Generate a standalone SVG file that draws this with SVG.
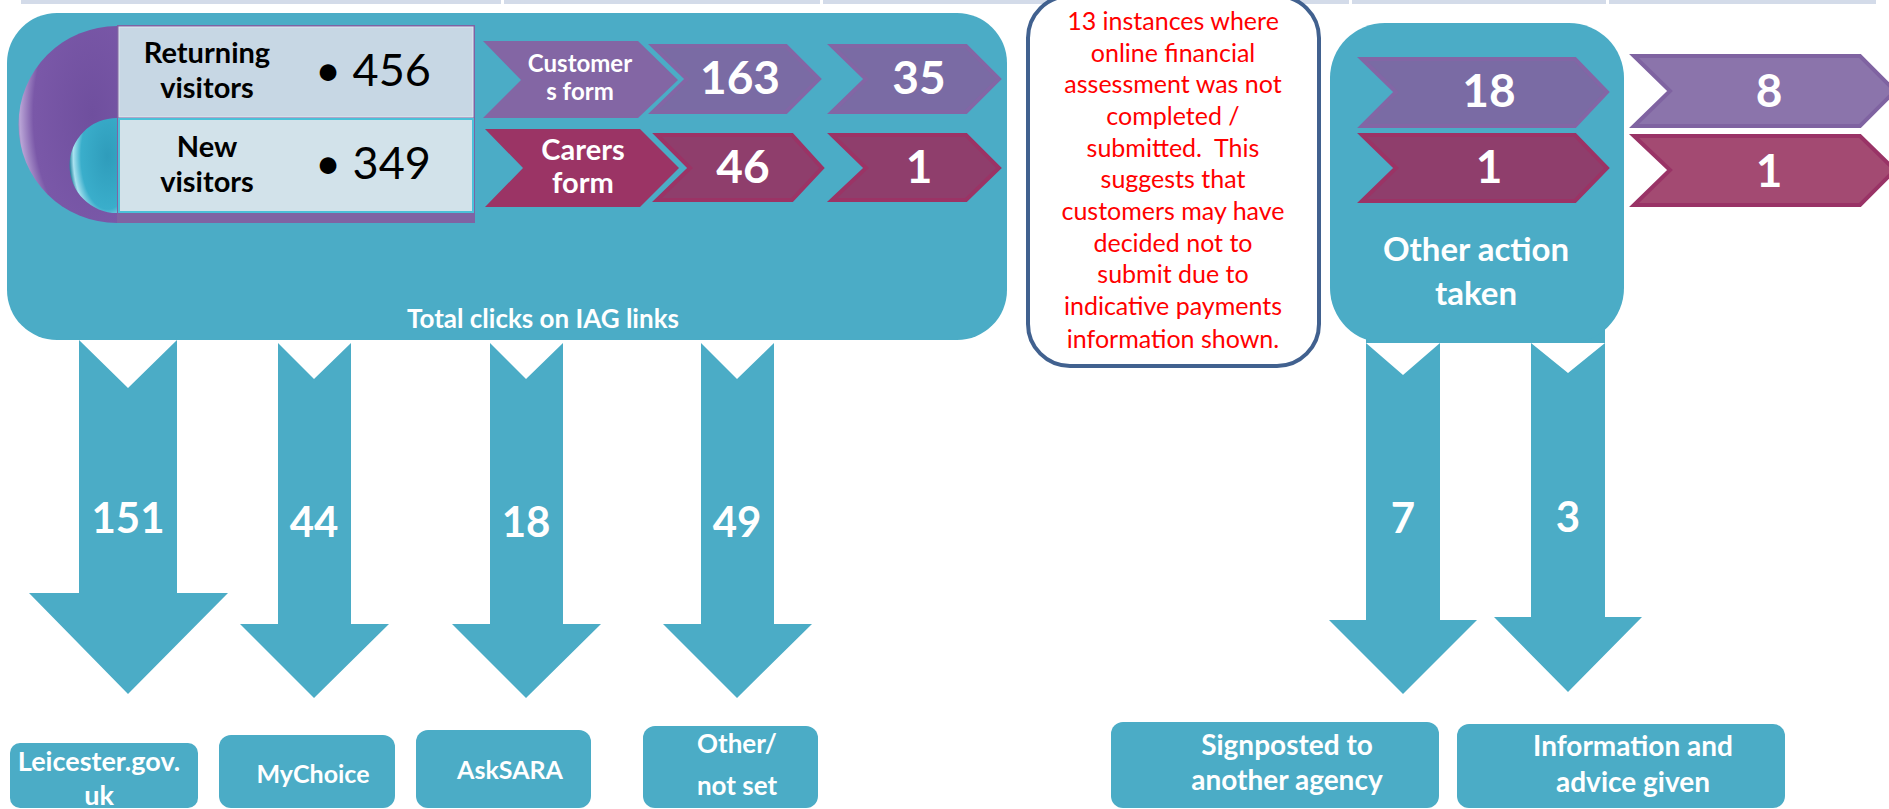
<svg xmlns="http://www.w3.org/2000/svg" width="1889" height="809" viewBox="0 0 1889 809">
<style>
text{font-family:Lato,"Open Sans","Liberation Sans",sans-serif}
.t{fill:#4bacc6}
.w{fill:#ffffff;font-weight:bold;text-anchor:middle}
.b{fill:#000000;font-weight:bold;text-anchor:middle;font-size:29px}
.num{font-size:46px}
.an{font-size:42px}
.cp{fill:#7a6ba4;stroke:#8366a5;stroke-width:4;stroke-linejoin:miter}
.cm{fill:#8f3e6c;stroke:#9b3365;stroke-width:4;stroke-linejoin:miter}
.red{fill:#ff0000;font-size:25px;text-anchor:middle}
.arrow{fill:#4bacc6}
.lab{font-size:28px}
</style>
<defs>
<radialGradient id="gp" cx="0.75" cy="0.45" r="0.8">
<stop offset="0" stop-color="#6f4f9e"/>
<stop offset="0.75" stop-color="#7a58a8"/>
<stop offset="0.92" stop-color="#b9a4d6"/>
<stop offset="1" stop-color="#5d3f88"/>
</radialGradient>
<radialGradient id="gt" cx="0.8" cy="0.4" r="0.8">
<stop offset="0" stop-color="#2f9cbb"/>
<stop offset="0.7" stop-color="#3aaecb"/>
<stop offset="0.9" stop-color="#a9e2f0"/>
<stop offset="1" stop-color="#2a87a2"/>
</radialGradient>
</defs>

<g id="topband">
<rect x="21" y="0" width="1855" height="4" fill="#d3dbe9"/>
<rect x="501" y="0" width="3" height="5" fill="#ffffff"/>
<rect x="820" y="0" width="3" height="5" fill="#ffffff"/>
<rect x="1076" y="0" width="3" height="5" fill="#ffffff"/>
<rect x="1349" y="0" width="3" height="5" fill="#ffffff"/>
<rect x="1606" y="0" width="3" height="5" fill="#ffffff"/>
</g>

<g id="connectors">
<polygon class="arrow" points="79,340 128,388 177,340 177,593 228,593 128,694 29,593 79,593"/>
<polygon class="arrow" points="278,343 314,379 351,343 351,624 389,624 314,698 240,624 278,624"/>
<polygon class="arrow" points="490,343 526,379 563,343 563,624 601,624 526,698 452,624 490,624"/>
<polygon class="arrow" points="701,343 737,379 774,343 774,624 812,624 737,698 663,624 701,624"/>
<rect class="arrow" x="1366" y="322" width="74" height="21"/>
<polygon class="arrow" points="1366,343 1403,375 1440,343 1440,620 1477,620 1403,694 1329,620 1366,620"/>
<rect class="arrow" x="1531" y="322" width="74" height="21"/>
<polygon class="arrow" points="1531,343 1568,373 1605,343 1605,617 1642,617 1568,692 1494,617 1531,617"/>
<text class="w an" x="128" y="533">151</text>
<text class="w an" x="314" y="537">44</text>
<text class="w an" x="526" y="537">18</text>
<text class="w an" x="737" y="537">49</text>
<text class="w an" x="1403" y="533">7</text>
<text class="w an" x="1568" y="532">3</text>
</g>

<g id="iag-box">
<rect class="t" x="7" y="13" width="1000" height="327" rx="50"/>
<text class="w" x="543" y="328" style="font-size:26px">Total clicks on IAG links</text>
</g>

<g id="visitors">
<path d="M117,26 A98.5,98.5 0 0 0 117,223 Z" fill="url(#gp)"/>
<rect x="117" y="25" width="358" height="198" fill="#7f63a3"/>
<rect x="119" y="27" width="354" height="90" fill="#c7d7e4" stroke="#dfe8f0" stroke-width="1"/>
<rect x="119" y="119" width="354" height="93" fill="#d2e2ea" stroke="#4bc0d8" stroke-width="2"/>
<path d="M117,118 A47.5,47.5 0 0 0 117,213 Z" fill="url(#gt)"/>
<text class="b" x="207" y="63">Returning</text>
<text class="b" x="207" y="98">visitors</text>
<text x="315" y="86" style="font-size:45px" fill="#000000">• 456</text>
<text class="b" x="207" y="157">New</text>
<text class="b" x="207" y="192">visitors</text>
<text x="315" y="179" style="font-size:45px" fill="#000000">• 349</text>
</g>

<g id="customers-form">
<polygon points="483,41 638,41 678,80 638,118 483,118 521,80" fill="#8366a4"/>
<text class="w" x="580" y="72" style="font-size:24px">Customer</text>
<text class="w" x="580" y="100" style="font-size:24px">s form</text>
</g>
<g id="c163">
<polygon class="cp" points="653,46 786,46 819,79 786,112 653,112 687,79"/>
<text class="w num" x="740" y="94">163</text>
</g>
<g id="c35">
<polygon class="cp" points="832,46 966,46 999,79 966,112 832,112 866,79"/>
<text class="w num" x="919" y="94">35</text>
</g>
<g id="carers-form">
<polygon points="485,129 640,129 679,168 640,207 485,207 523,168" fill="#9b3465"/>
<text class="w" x="583" y="160" style="font-size:29px">Carers</text>
<text class="w" x="583" y="193" style="font-size:29px">form</text>
</g>
<g id="c46">
<polygon class="cm" points="657,135 792,135 822,168 792,200 657,200 690,168"/>
<text class="w num" x="743" y="183">46</text>
</g>
<g id="c1a">
<polygon class="cm" points="832,135 966,135 999,168 966,200 832,200 866,168"/>
<text class="w num" x="919" y="183">1</text>
</g>

<g id="note">
<rect x="1028" y="-4" width="291" height="370" rx="42" fill="#ffffff" stroke="#41618f" stroke-width="4"/>
<text class="red" x="1173" y="30">13 instances where</text>
<text class="red" x="1173" y="62">online financial</text>
<text class="red" x="1173" y="93">assessment was not</text>
<text class="red" x="1173" y="125">completed /</text>
<text class="red" x="1173" y="157" xml:space="preserve">submitted.  This</text>
<text class="red" x="1173" y="188">suggests that</text>
<text class="red" x="1173" y="220">customers may have</text>
<text class="red" x="1173" y="252">decided not to</text>
<text class="red" x="1173" y="283">submit due to</text>
<text class="red" x="1173" y="315">indicative payments</text>
<text class="red" x="1173" y="348">information shown.</text>
</g>

<g id="other-action">
<rect class="t" x="1330" y="23" width="294" height="320" rx="55"/>
<text class="w" x="1476" y="261" style="font-size:33px">Other action</text>
<text class="w" x="1476" y="305" style="font-size:33px">taken</text>
</g>
<g id="c18">
<polygon class="cp" points="1362,59 1575,59 1607,92 1575,126 1362,126 1396,92"/>
<text class="w num" x="1489" y="107">18</text>
</g>
<g id="c1b">
<polygon class="cm" points="1362,135 1575,135 1607,168 1575,201 1362,201 1396,168"/>
<text class="w num" x="1489" y="183">1</text>
</g>
<g id="c8">
<polygon points="1634,56 1860,56 1895,91 1860,126 1634,126 1670,91" fill="#8b74ab" stroke="#7f63a1" stroke-width="4"/>
<text class="w num" x="1769" y="107">8</text>
</g>
<g id="c1c">
<polygon points="1634,136 1860,136 1895,170 1860,205 1634,205 1670,170" fill="#a34a72" stroke="#993366" stroke-width="4"/>
<text class="w num" x="1769" y="187">1</text>
</g>

<g id="leicester">
<rect class="t" x="10" y="743" width="188" height="65" rx="10"/>
<text class="w" x="99" y="771" style="font-size:27px">Leicester.gov.</text>
<text class="w" x="99" y="805" style="font-size:27px">uk</text>
</g>
<g id="mychoice">
<rect class="t" x="219" y="735" width="176" height="73" rx="12"/>
<text class="w" x="313" y="783" style="font-size:25px">MyChoice</text>
</g>
<g id="asksara">
<rect class="t" x="416" y="730" width="175" height="78" rx="12"/>
<text class="w" x="510" y="779" style="font-size:25px">AskSARA</text>
</g>
<g id="other-notset">
<rect class="t" x="643" y="726" width="175" height="82" rx="12"/>
<text class="w" x="737" y="753" style="font-size:26px">Other/</text>
<text class="w" x="737" y="795" style="font-size:26px">not set</text>
</g>
<g id="signposted">
<rect class="t" x="1111" y="722" width="328" height="86" rx="12"/>
<text class="w lab" x="1287" y="755">Signposted to</text>
<text class="w lab" x="1287" y="790">another agency</text>
</g>
<g id="info-advice">
<rect class="t" x="1457" y="724" width="328" height="84" rx="12"/>
<text class="w lab" x="1633" y="756">Information and</text>
<text class="w lab" x="1633" y="792">advice given</text>
</g>
</svg>
